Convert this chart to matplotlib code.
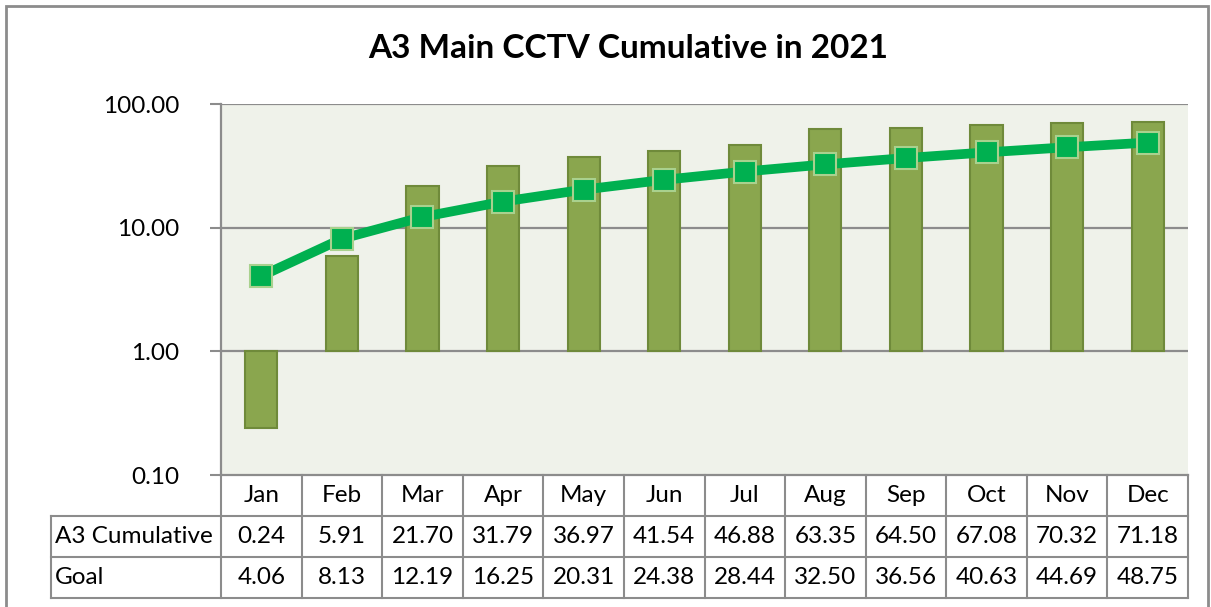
import matplotlib
matplotlib.use("Agg")
import matplotlib.pyplot as plt
from matplotlib.patches import Rectangle
from matplotlib.lines import Line2D
import matplotlib.transforms as mtransforms

months = ["Jan", "Feb", "Mar", "Apr", "May", "Jun", "Jul", "Aug", "Sep", "Oct", "Nov", "Dec"]
cumulative = [0.24, 5.91, 21.70, 31.79, 36.97, 41.54, 46.88, 63.35, 64.50, 67.08, 70.32, 71.18]
goal = [4.06, 8.13, 12.19, 16.25, 20.31, 24.38, 28.44, 32.50, 36.56, 40.63, 44.69, 48.75]
row_names = ["A3 Cumulative", "Goal"]
yticks = [0.1, 1, 10, 100]

plt.rcParams['font.family'] = ['Lato', 'DejaVu Sans']
grey = "#8c8c8c"

fig = plt.figure(figsize=(12.11, 6.07), dpi=100)
W, H = 1211, 607
ax = fig.add_axes([221 / W, 1 - 475 / H, (1188 - 221) / W, (475 - 104) / H])
ax.set_facecolor("#eff2ea")

x = list(range(len(months)))
ax.set_yscale("log")
ax.set_ylim(0.1, 100)
ax.set_xlim(-0.5, len(months) - 0.5)

for t in yticks[1:]:
    ax.axhline(t, color=grey, lw=1.6, zorder=1)

ax.bar(x, [v - 1 for v in cumulative], bottom=1, width=0.4,
       color="#8aa64e", edgecolor="#6f8a3a", linewidth=1.5, zorder=2)
ax.plot(x, goal, color="#00b050", lw=7, zorder=3, marker="s", markersize=16,
        markerfacecolor="#00b050", markeredgecolor="#a9d18e", markeredgewidth=1.5)

fs = 17.5
ax.set_yticks(yticks)
ax.set_yticklabels(["%.2f" % t for t in yticks], fontsize=fs)
ax.yaxis.set_minor_locator(matplotlib.ticker.NullLocator())
ax.tick_params(axis="y", length=8, color=grey, width=1.5, pad=22)
ax.set_xticks([])
for s in ["top", "right"]:
    ax.spines[s].set_visible(False)
ax.spines["left"].set_color(grey)
ax.spines["left"].set_linewidth(1.6)
ax.spines["bottom"].set_color(grey)
ax.spines["bottom"].set_linewidth(1.6)

# data table under the plot
trans = mtransforms.blended_transform_factory(ax.transData, ax.transAxes)
row_h = 41 / 371
label_left = -0.5 - 170 / (967 / 12)
for i, m in enumerate(months):
    ax.text(i, -row_h * 0.5, m, transform=trans, ha="center", va="center", fontsize=fs, clip_on=False)
    ax.text(i, -row_h * 1.5, "%.2f" % cumulative[i], transform=trans, ha="center", va="center", fontsize=fs, clip_on=False)
    ax.text(i, -row_h * 2.5, "%.2f" % goal[i], transform=trans, ha="center", va="center", fontsize=fs, clip_on=False)
for r, name in enumerate(row_names):
    ax.text(label_left + 0.05, -row_h * (r + 1.5), name, transform=trans, ha="left", va="center",
            fontsize=fs, clip_on=False)

lkw = dict(transform=trans, color=grey, lw=1.5, clip_on=False)
for k in range(len(months) + 1):
    ax.add_line(Line2D([k - 0.5, k - 0.5], [0, -3 * row_h], **lkw))
ax.add_line(Line2D([label_left, label_left], [-row_h, -3 * row_h], **lkw))
for r in range(1, 4):
    ax.add_line(Line2D([label_left, len(months) - 0.5], [-r * row_h, -r * row_h], **lkw))

fig.text(628 / W, 1 - 48 / H, "A3 Main CCTV Cumulative in 2021", fontsize=24, fontweight="bold",
         ha="center", va="center")

# chart frame
fig.patches.append(Rectangle((6 / W, -0.01), (1208 - 6) / W, 1 - 6 / H + 0.01, transform=fig.transFigure,
                             fill=False, edgecolor="#8c8c8c", lw=2))

fig.savefig("out.png", dpi=100)
